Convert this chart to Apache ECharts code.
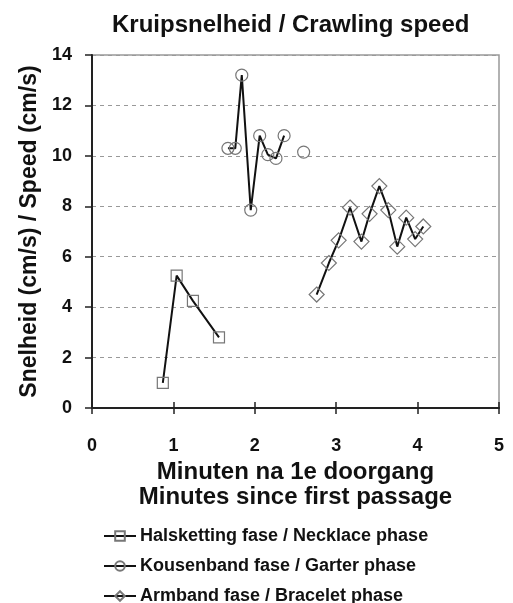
<!DOCTYPE html>
<html>
<head>
<meta charset="utf-8">
<script src="https://cdn.jsdelivr.net/npm/echarts@6/dist/echarts.min.js"></script>
<style>
    html, body { margin: 0; padding: 0; background: #fff; }
    #chart { width: 513px; height: 603px; }
</style>
</head>
<body>
<div id="chart"></div>
<script>
// minutes since first passage (x) and crawling speed in cm/s (y), per phase
var necklace_x = [0.87, 1.04, 1.24, 1.56];
var necklace_y = [1.0, 5.25, 4.25, 2.8];

// null = gap in the line before the last, unconnected point
var garter_x = [1.67, 1.76, 1.84, 1.95, 2.06, 2.16, 2.26, 2.36, null, 2.60];
var garter_y = [10.3, 10.3, 13.2, 7.85, 10.8, 10.05, 9.9, 10.8, null, 10.15];

var bracelet_x = [2.76, 2.91, 3.03, 3.17, 3.31, 3.41, 3.53, 3.64, 3.75, 3.86, 3.97, 4.07];
var bracelet_y = [4.5, 5.75, 6.65, 7.95, 6.6, 7.7, 8.8, 7.85, 6.4, 7.55, 6.7, 7.2];

var series_names = ["Halsketting fase / Necklace phase", "Kousenband fase / Garter phase", "Armband fase / Bracelet phase"];

function toPoints(xs, ys) {
    var out = [];
    for (var i = 0; i < xs.length; i++) {
        if (xs[i] === null) out.push(['-', '-']);
        else out.push([xs[i], ys[i]]);
    }
    return out;
}

function makeSeries(name, data, symbol, size) {
    return {
        name: name,
        type: 'line',
        data: data,
        symbol: symbol,
        symbolSize: size,
        connectNulls: false,
        lineStyle: { color: '#111', width: 2 },
        itemStyle: { color: 'rgba(255,255,255,0)', borderColor: '#777', borderWidth: 1.2 },
        emphasis: { disabled: true }
    };
}

var chart = echarts.init(document.getElementById('chart'));

var font = 'Liberation Sans, Arial';

var option = {
    backgroundColor: '#fff',
    animation: false,
    title: {
        text: 'Kruipsnelheid / Crawling speed',
        left: 112,
        top: 13,
        padding: 0,
        textStyle: { fontFamily: font, fontWeight: 'bold', fontSize: 24, color: '#111' }
    },
    legend: {
        orient: 'vertical',
        left: 103,
        top: 527,
        height: 100,
        padding: 0,
        itemGap: 12,
        itemWidth: 32,
        itemHeight: 12,
        data: series_names,
        textStyle: { fontFamily: font, fontWeight: 'bold', fontSize: 18, color: '#111', padding: [0, 0, 0, -1] }
    },
    grid: {
        left: 92,
        right: 14,
        top: 55,
        bottom: 195,
        show: true,
        borderColor: '#999',
        borderWidth: 1.5
    },
    xAxis: [
        {
            type: 'value',
            min: 0,
            max: 5,
            interval: 1,
            position: 'bottom',
            name: 'Minuten na 1e doorgang\nMinutes since first passage',
            nameLocation: 'middle',
            nameGap: 51,
            nameTextStyle: { fontFamily: font, fontWeight: 'bold', fontSize: 24, color: '#111', lineHeight: 25 },
            axisLine: { lineStyle: { color: '#222', width: 2 } },
            axisTick: { length: 6, lineStyle: { color: '#222', width: 1.5 } },
            axisLabel: { margin: 29, fontFamily: font, fontWeight: 'bold', fontSize: 18, color: '#111' },
            splitLine: { show: false }
        },
        {
            // second copy only to draw the tick marks above the axis line
            type: 'value',
            min: 0,
            max: 5,
            interval: 1,
            position: 'bottom',
            axisLine: { show: false },
            axisTick: { inside: true, length: 6, lineStyle: { color: '#222', width: 1.5 } },
            axisLabel: { show: false },
            splitLine: { show: false }
        }
    ],
    yAxis: {
        type: 'value',
        min: 0,
        max: 14,
        interval: 2,
        name: 'Snelheid (cm/s) / Speed (cm/s)',
        nameLocation: 'middle',
        nameGap: 49,
        nameTextStyle: { fontFamily: font, fontWeight: 'bold', fontSize: 23, color: '#111' },
        axisLine: { show: true, lineStyle: { color: '#222', width: 2 } },
        axisTick: { show: true, length: 7, lineStyle: { color: '#222', width: 1.5 } },
        axisLabel: { margin: 20, fontFamily: font, fontWeight: 'bold', fontSize: 18, color: '#111' },
        splitLine: { show: true, lineStyle: { color: '#999', width: 1, type: [4, 4] } }
    },
    series: [
        makeSeries(series_names[0], toPoints(necklace_x, necklace_y), 'rect', 11),
        makeSeries(series_names[1], toPoints(garter_x, garter_y), 'circle', 12),
        makeSeries(series_names[2], toPoints(bracelet_x, bracelet_y), 'diamond', 15)
    ]
};

chart.setOption(option);
</script>
</body>
</html>
